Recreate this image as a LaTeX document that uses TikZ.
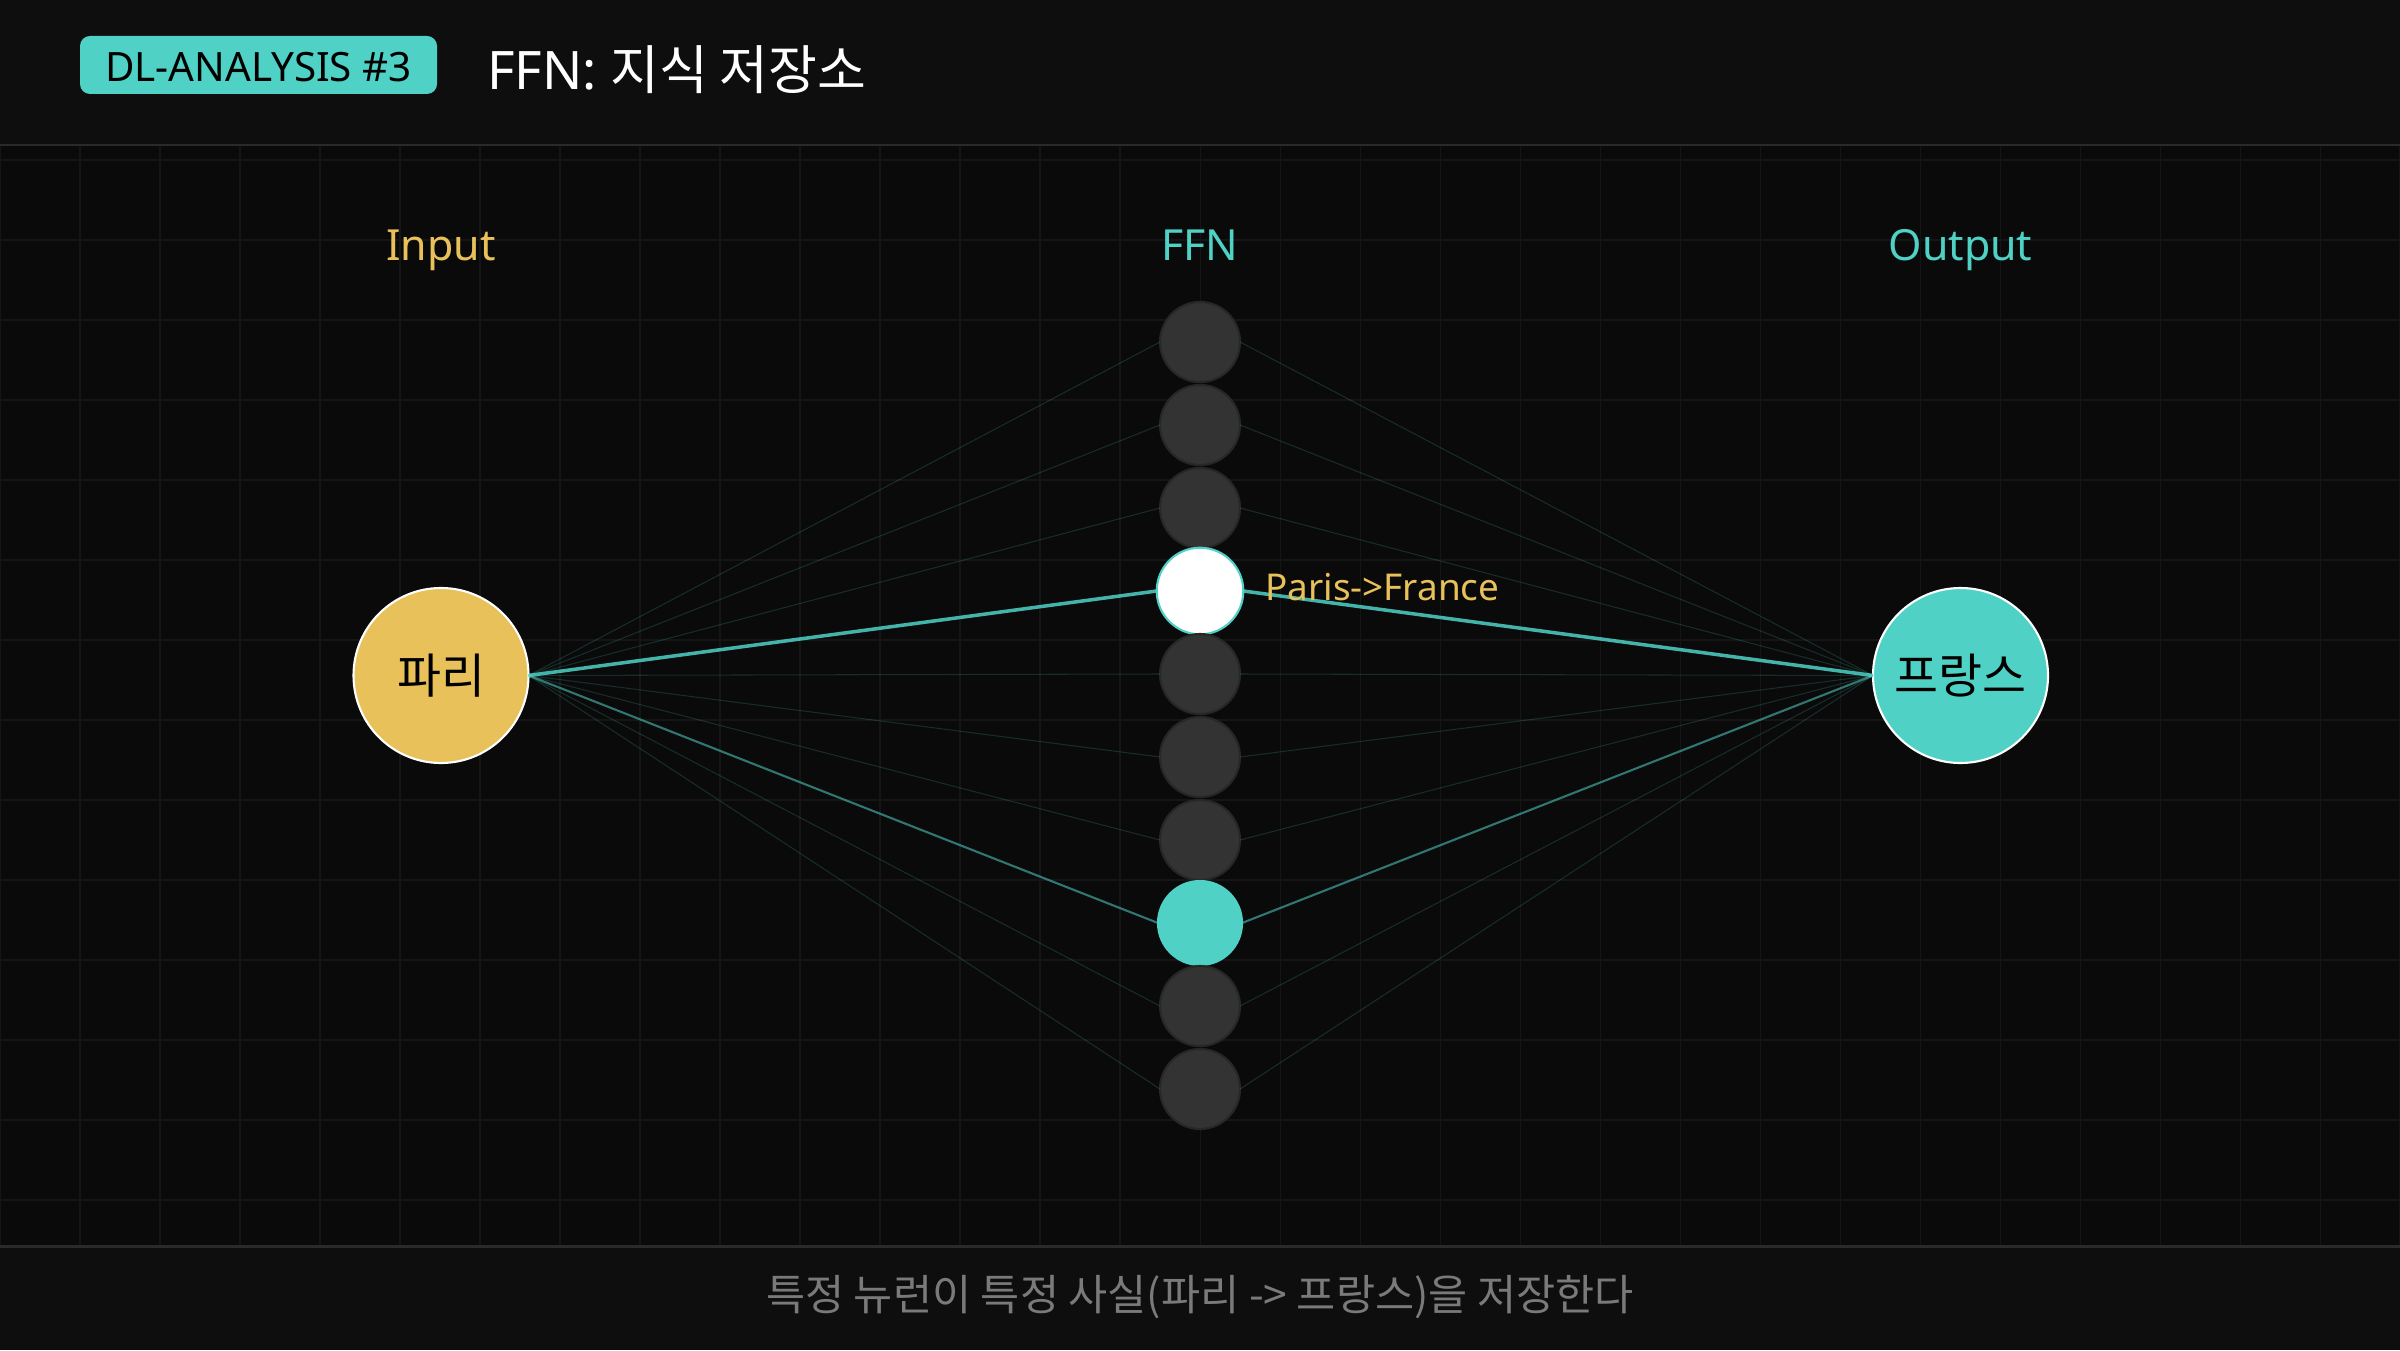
\documentclass[tikz,border=0pt]{standalone}
\usepackage{fontspec}
\setmainfont{Noto Sans}
\newfontfamily\krfont{Noto Sans CJK KR}
\usepackage{tikz}
\usetikzlibrary{positioning}
\definecolor{bgmain}{HTML}{0A0A0A}
\definecolor{bgpanel}{HTML}{0E0E0E}
\definecolor{divider}{HTML}{2A2A2A}
\definecolor{gridgrey}{HTML}{151515}
\definecolor{ffnteal}{HTML}{4FD1C5}
\definecolor{inputgold}{HTML}{E8C15A}
\definecolor{neurongrey}{HTML}{333333}
\definecolor{neuronedge}{HTML}{272727}
\definecolor{footgrey}{HTML}{7A7A7A}
\tikzset{
% Define standard styles
neuron/.style={circle, minimum size=0.8cm, fill=neurongrey, draw=neuronedge, line width=0.6pt},
faintlink/.style={draw=ffnteal, draw opacity=0.18, line width=0.3pt},
midlink/.style={draw=ffnteal, draw opacity=0.55, line width=0.6pt},
hotlink/.style={draw=ffnteal, draw opacity=0.85, line width=1pt},
gridline/.style={draw=gridgrey, line width=0.3pt},
rule/.style={draw=divider, line width=0.6pt}
}

\begin{document}
\begin{tikzpicture}[inner sep=0, outer sep=0]
  \useasboundingbox (0,0) rectangle (24,13.5);
  \fill[bgmain] (0,0) rectangle (24,13.5);
  \fill[bgpanel] (0,12.05) rectangle (24,13.5);
  \fill[bgpanel] (0,0) rectangle (24,1.035);
  \begin{scope}[shift={(0,0.7)}]
    \draw[gridline, step=0.8] (0,0.335) grid (24,11.35);
  \end{scope}
  \draw[rule] (0,12.05) -- (24,12.05);
  \draw[rule] (0,1.035) -- (24,1.035);

  \node[rectangle,
    rounded corners=0.1cm,
    minimum width=3.57cm,
    minimum height=0.58cm,
    fill=ffnteal] (badge) at (2.585, 12.85) {};
  \node[anchor=base, text=black,
    font=\fontsize{11.5}{12}\selectfont] (badgetext) at (2.585, 12.683) {DL-ANALYSIS \#3};
  \node[anchor=base west, text=white,
    font=\fontsize{15.1}{16}\selectfont] (title) at ([xshift=0.5cm]badge.east |- 0,12.60) {FFN: {\krfont 지식 저장소}};

  \node[circle,
    minimum size=1.75cm,
    fill=inputgold,
    draw=white, line width=0.6pt,
    font=\krfont\fontsize{13.6}{15}\selectfont] (paris) at (4.41, 6.745) {파리};
  \node[circle,
    minimum size=1.75cm,
    fill=ffnteal,
    draw=white, line width=0.6pt,
    font=\krfont\fontsize{13.6}{15}\selectfont] (france) at (19.605, 6.745) {프랑스};

  \node[neuron] (n1) at (12, 10.08) {};
  \node[neuron] (n2) at ([yshift=-0.83cm]n1.center) {};
  \node[neuron] (n3) at ([yshift=-0.83cm]n2.center) {};
  \node[neuron, minimum size=0.866cm, fill=white, draw=ffnteal] (n4) at ([yshift=-0.83cm]n3.center) {};
  \node[neuron] (n5) at ([yshift=-0.83cm]n4.center) {};
  \node[neuron] (n6) at ([yshift=-0.83cm]n5.center) {};
  \node[neuron] (n7) at ([yshift=-0.83cm]n6.center) {};
  \node[neuron, minimum size=0.84cm, fill=ffnteal, draw=ffnteal] (n8) at ([yshift=-0.83cm]n7.center) {};
  \node[neuron] (n9) at ([yshift=-0.83cm]n8.center) {};
  \node[neuron] (n10) at ([yshift=-0.83cm]n9.center) {};

  \node[anchor=base, text=inputgold, font=\fontsize{12.2}{14}\selectfont] (inputlabel) at (paris |- 0,10.893) {Input};
  \node[anchor=base, text=ffnteal, font=\fontsize{12.2}{14}\selectfont] (ffnlabel) at (n1 |- 0,10.893) {FFN};
  \node[anchor=base, text=ffnteal, font=\fontsize{12.2}{14}\selectfont] (outputlabel) at (france |- 0,10.893) {Output};

  \foreach \i in {1,2,3,5,6,7,9,10} {
    \draw[faintlink] (paris.east) -- (n\i.west);
    \draw[faintlink] (n\i.east) -- (france.west);
  }
  \draw[midlink] (paris.east) -- (n8.west);
  \draw[midlink] (n8.east) -- (france.west);
  \draw[hotlink] (paris.east) -- (n4.west);
  \draw[hotlink] (n4.east) -- (france.west);

  \node[anchor=base west, text=inputgold,
    font=\fontsize{10.5}{12}\selectfont] (fact) at ([xshift=0.22cm]n4.east |- 0,7.50) {Paris->France};

  \node[text=footgrey, font=\krfont\fontsize{12.1}{14}\selectfont] (caption) at (12, 0.53) {특정 뉴런이 특정 사실(파리 -> 프랑스)을 저장한다};
\end{tikzpicture}
\end{document}
